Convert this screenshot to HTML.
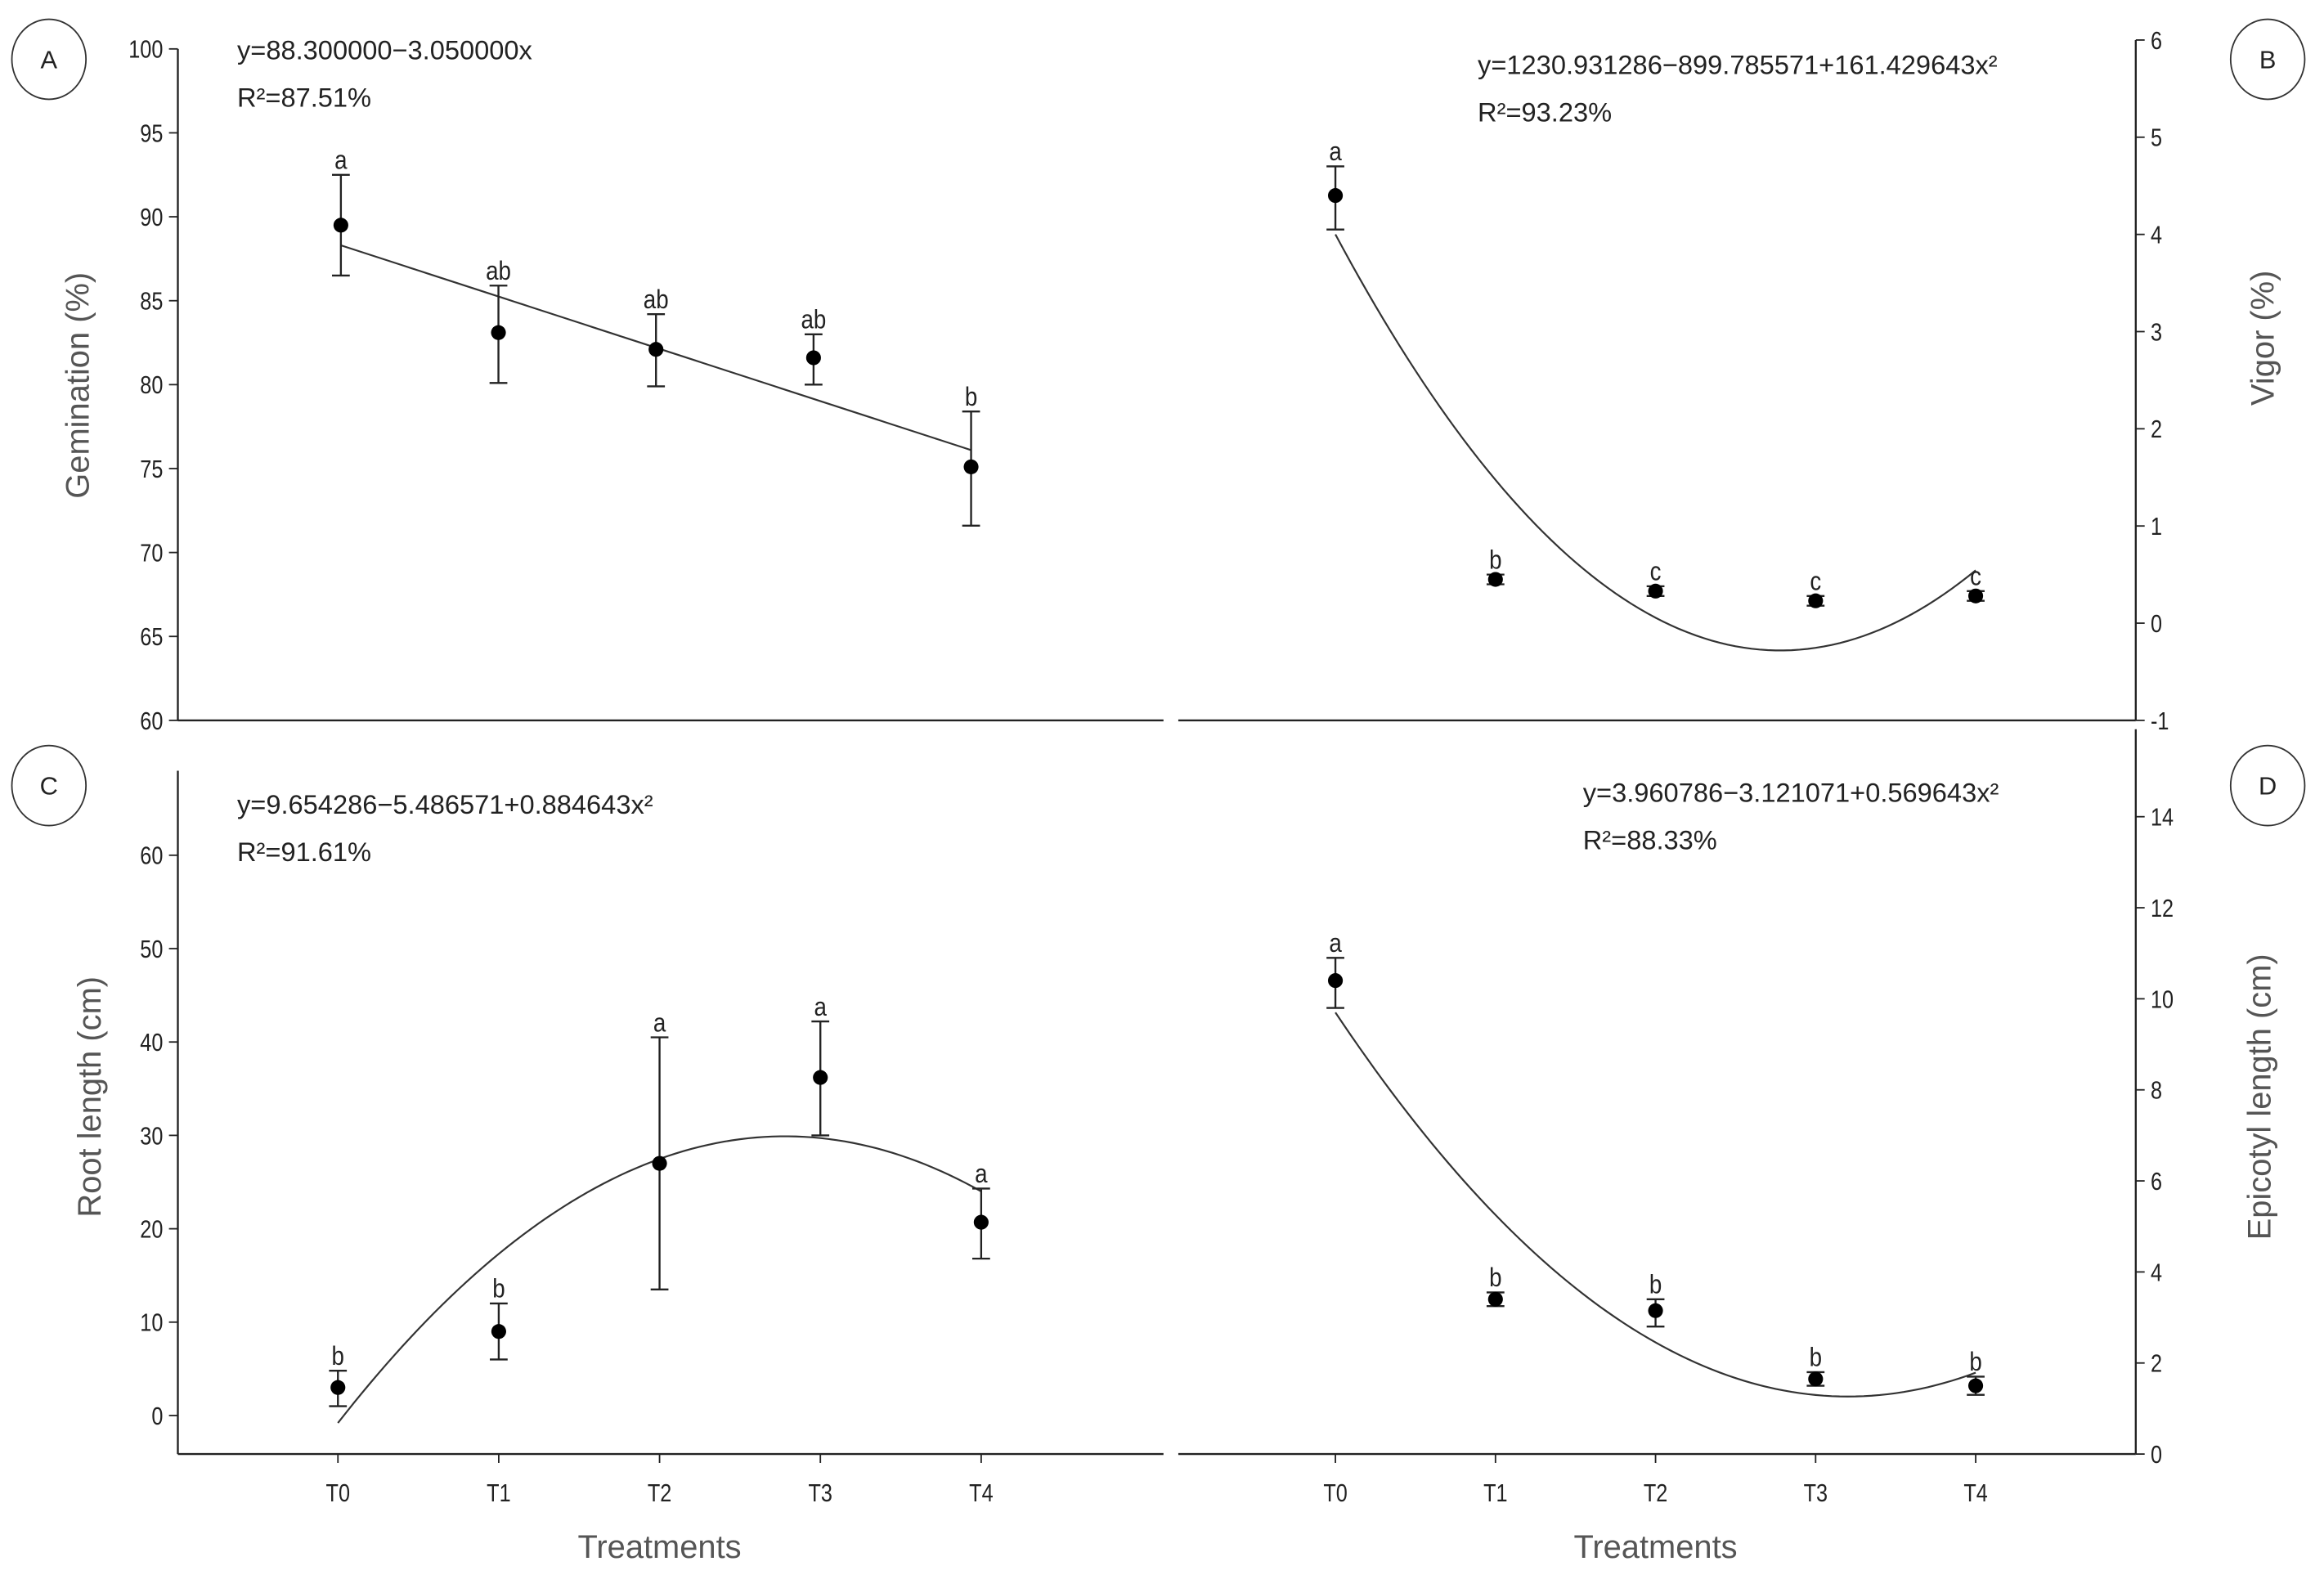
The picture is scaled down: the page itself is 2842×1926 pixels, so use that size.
<!DOCTYPE html>
<html><head><meta charset="utf-8"><style>
html,body{margin:0;padding:0;background:#fff;}
svg{display:block;}
text{font-family:"Liberation Sans Narrow","Liberation Sans",sans-serif;fill:#222;}
.tt{font-family:"Liberation Sans",sans-serif;fill:#555;}
</style></head><body>
<svg id="fig" xmlns="http://www.w3.org/2000/svg" width="2842" height="1926" viewBox="0 0 1568 1062.6" preserveAspectRatio="none"></svg>
<script>
const treatments = ["T0","T1","T2","T3","T4"];
// Panel A germination
const germMean = [89.5, 83.1, 82.1, 81.6, 75.1];
const germLo = [86.5, 80.1, 79.9, 80.0, 71.6];
const germHi = [92.5, 85.9, 84.2, 83.0, 78.4];
const germLetters = ["a","ab","ab","ab","b"];
const germFit = [88.3, -3.05, 0];
const germTicks = [60,65,70,75,80,85,90,95,100];
// Panel B vigor
const vigMean = [4.4, 0.45, 0.33, 0.23, 0.28];
const vigLo = [4.05, 0.4, 0.28, 0.18, 0.23];
const vigHi = [4.7, 0.5, 0.38, 0.28, 0.33];
const vigLetters = ["a","b","c","c","c"];
const vigFit = [4.0, -3.08, 0.554];
const vigTicks = [-1,0,1,2,3,4,5,6];
// Panel C root length
const rootMean = [3.0, 9.0, 27.0, 36.2, 20.7];
const rootLo = [1.0, 6.0, 13.5, 30.0, 16.8];
const rootHi = [4.8, 12.0, 40.5, 42.2, 24.3];
const rootLetters = ["b","b","a","a","a"];
const rootFit = [-0.8, 22.08, -3.97];
const rootTicks = [0,10,20,30,40,50,60];
// Panel D epicotyl length
const epiMean = [10.4, 3.4, 3.15, 1.65, 1.5];
const epiLo = [9.8, 3.25, 2.8, 1.5, 1.3];
const epiHi = [10.9, 3.55, 3.4, 1.8, 1.7];
const epiLetters = ["a","b","b","b","b"];
const epiFit = [9.7, -5.27, 0.823];
const epiTicks = [0,2,4,6,8,10,12,14];

const NS="http://www.w3.org/2000/svg";
const svg=document.getElementById('fig');
function mk(tag,attrs,parent){const e=document.createElementNS(NS,tag);for(const k in attrs)e.setAttribute(k,attrs[k]);(parent||svg).appendChild(e);return e;}

const panels=[
 {id:'a',side:'left',axisX:120,xStart:120,xEnd:785,axisY:486,top:33,v0:100,p0:33,v1:60,p1:486,tx0:230,tstep:106.3,xlabels:false,
  mean:germMean,lo:germLo,hi:germHi,letters:germLetters,fit:germFit,ticks:germTicks,
  title:'Gemination (%)',titleX:52,titleY:260,eq:'y=88.300000\u22123.050000x',r2:'87.51%',eqX:160,eqY:40,circ:[33,40],circL:'A'},
 {id:'b',side:'right',axisX:1441,xStart:795,xEnd:1441,axisY:486,top:27,v0:6,p0:27,v1:-1,p1:486,tx0:901,tstep:108,xlabels:false,
  mean:vigMean,lo:vigLo,hi:vigHi,letters:vigLetters,fit:vigFit,ticks:vigTicks,
  title:'Vigor (%)',titleX:1526,titleY:228,eq:'y=1230.931286\u2212899.785571+161.429643x\u00b2',r2:'93.23%',eqX:997,eqY:50,circ:[1530,40],circL:'B'},
 {id:'c',side:'left',axisX:120,xStart:120,xEnd:785,axisY:981,top:520,v0:60,p0:577,v1:0,p1:955,tx0:228,tstep:108.5,xlabels:true,
  mean:rootMean,lo:rootLo,hi:rootHi,letters:rootLetters,fit:rootFit,ticks:rootTicks,
  title:'Root length (cm)',titleX:60,titleY:740,eq:'y=9.654286\u22125.486571+0.884643x\u00b2',r2:'91.61%',eqX:160,eqY:549,circ:[33,530],circL:'C'},
 {id:'d',side:'right',axisX:1441,xStart:795,xEnd:1441,axisY:981,top:492,v0:14,p0:551,v1:0,p1:981,tx0:901,tstep:108,xlabels:true,
  mean:epiMean,lo:epiLo,hi:epiHi,letters:epiLetters,fit:epiFit,ticks:epiTicks,
  title:'Epicotyl length (cm)',titleX:1524,titleY:740,eq:'y=3.960786\u22123.121071+0.569643x\u00b2',r2:'88.33%',eqX:1068,eqY:541,circ:[1530,530],circL:'D'}
];

panels.forEach(p=>{
 const g=mk('g',{});
 
 
 const y=v=>p.p0+(v-p.v0)*(p.p1-p.p0)/(p.v1-p.v0);
 const x=i=>p.tx0+i*p.tstep;
 const ya=mk('line',{x1:p.axisX,y1:p.top,x2:p.axisX,y2:p.axisY,stroke:'#222','stroke-width':1.3},g);
 
 
 const xa=mk('line',{x1:p.xStart,y1:p.axisY,x2:p.xEnd,y2:p.axisY,stroke:'#222','stroke-width':1.3},g);
 
 
 const dir=p.side==='left'?-1:1;
 p.ticks.forEach(t=>{
  const ty=y(t);
  const tk=mk('line',{x1:p.axisX,y1:ty,x2:p.axisX+dir*6,y2:ty,stroke:'#222','stroke-width':1},g);
  
  
  const lx=p.axisX+dir*10;
  const tl=mk('text',{x:0,y:0,'font-size':17,'text-anchor':p.side==='left'?'end':'start',transform:`translate(${lx} ${ty+6}) scale(0.82 1)`},g);
  tl.textContent=t;
  
  
 });
 if(p.xlabels){
  treatments.forEach((t,i)=>{
   const tk=mk('line',{x1:x(i),y1:p.axisY,x2:x(i),y2:p.axisY+6,stroke:'#222','stroke-width':1},g);
   
   
   const tl=mk('text',{x:0,y:0,'font-size':17,'text-anchor':'middle',transform:`translate(${x(i)} ${p.axisY+32}) scale(0.82 1)`},g);
   tl.textContent=t;
   
   
  });
  const xt=mk('text',{x:(x(0)+x(4))/2,y:p.axisY+70,'font-size':22,'text-anchor':'middle',class:'tt'},g);
  xt.textContent='Treatments';
  
  
 }
 const yt=mk('text',{x:p.titleX,y:p.titleY,'font-size':22,'text-anchor':'middle',class:'tt',transform:`rotate(-90 ${p.titleX} ${p.titleY})`,dy:8},g);
 yt.textContent=p.title;
 
 
 let d='';
 for(let k=0;k<=80;k++){const xv=k/20;const v=p.fit[0]+p.fit[1]*xv+p.fit[2]*xv*xv;d+=(k?'L':'M')+(p.tx0+xv*p.tstep).toFixed(2)+','+y(v).toFixed(2);}
 const fc=mk('path',{d:d,fill:'none',stroke:'#333','stroke-width':1.2},g);
 
 
 p.mean.forEach((m,i)=>{
  const cx=x(i);
  const eb=mk('path',{d:`M${cx},${y(p.lo[i])}L${cx},${y(p.hi[i])}M${cx-6},${y(p.lo[i])}L${cx+6},${y(p.lo[i])}M${cx-6},${y(p.hi[i])}L${cx+6},${y(p.hi[i])}`,stroke:'#222','stroke-width':1.3,fill:'none'},g);
  
  
  const c=mk('circle',{cx:cx,cy:y(m),r:5,fill:'#000'},g);
  
  
  const lt=mk('text',{x:0,y:0,'font-size':18,'text-anchor':'middle',transform:`translate(${cx} ${y(p.hi[i])-4}) scale(0.85 1)`},g);
  lt.textContent=p.letters[i];
  
  
 });
 const eq=mk('text',{x:p.eqX,y:p.eqY,'font-size':18,style:'font-family:"Liberation Sans",sans-serif'},g);
 eq.textContent=p.eq;
 
 
 const r2=mk('text',{x:p.eqX,y:p.eqY+32,'font-size':18,style:'font-family:"Liberation Sans",sans-serif'},g);
 r2.textContent='R\u00b2='+p.r2;
 
 
 const ci=mk('ellipse',{cx:p.circ[0],cy:p.circ[1],rx:25,ry:27,fill:'none',stroke:'#333','stroke-width':1},g);
 
 
 const cl=mk('text',{x:p.circ[0],y:p.circ[1]+6,'font-size':17,'text-anchor':'middle',style:'font-family:"Liberation Sans",sans-serif'},g);
 cl.textContent=p.circL;
 
 
});
</script>
</body></html>
